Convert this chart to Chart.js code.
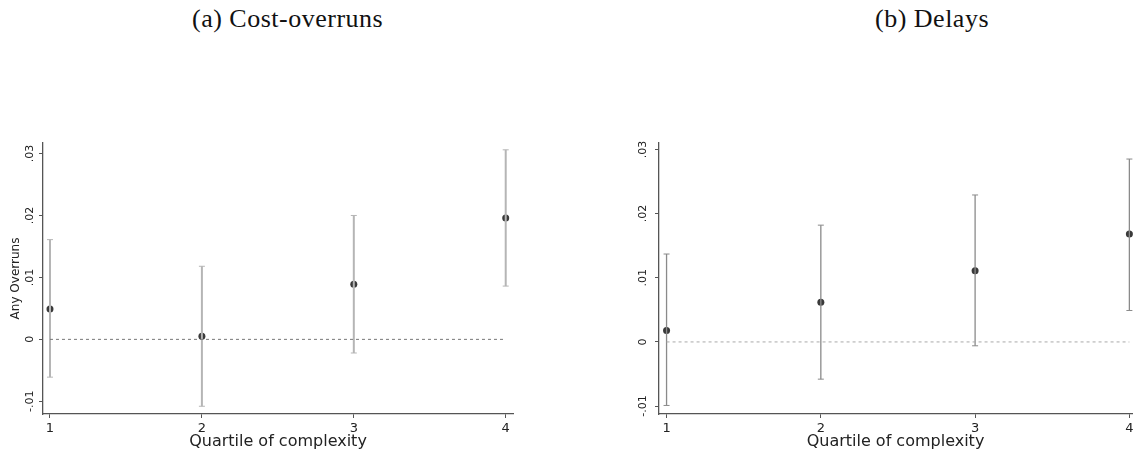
<!DOCTYPE html>
<html>
<head>
<meta charset="utf-8">
<script src="https://cdn.jsdelivr.net/npm/chart.js@4.4.1/dist/chart.umd.min.js"></script>
<style>
body { margin: 0; width: 1137px; height: 453px; background: #fff; overflow: hidden; position: relative; }
.panelTitle { position: absolute; top: 6px; font-family: "Liberation Serif", serif; font-size: 26px; line-height: 26px; letter-spacing: 0.5px; color: #111; white-space: nowrap; }
#wrapA { position: absolute; left: 0; top: 0; width: 560px; height: 453px; }
#wrapB { position: absolute; left: 570px; top: 0; width: 567px; height: 453px; }
</style>
</head>
<body>
<div class="panelTitle" style="left:192px">(a) Cost-overruns</div>
<div class="panelTitle" style="left:875px">(b) Delays</div>
<div id="wrapA"><canvas id="chartA"></canvas></div>
<div id="wrapB"><canvas id="chartB"></canvas></div>
<script>
const quartiles = [1, 2, 3, 4];
const quartileLabels = ['1', '2', '3', '4'];
const yTickValues = [-0.01, 0, 0.01, 0.02, 0.03];
const yTickLabels = ['-.01', '0', '.01', '.02', '.03'];

// (a) any overruns
const overrunCoef = [0.0049, 0.0005, 0.0089, 0.0196];
const overrunLow = [-0.0061, -0.0108, -0.0022, 0.0086];
const overrunHigh = [0.0161, 0.0118, 0.0200, 0.0306];

// (b) delays
const delayCoef = [0.0018, 0.0062, 0.0111, 0.0168];
const delayLow = [-0.0099, -0.0058, -0.0006, 0.0049];
const delayHigh = [0.0137, 0.0182, 0.0229, 0.0285];

const axisColor = '#555';
const textColor = '#222';

function makeChart(id, coef, low, high, cfg) {
    const datasets = [];

    // zero reference line
    datasets.push({
        type: 'line',
        data: [{ x: quartiles[0], y: 0 }, { x: quartiles[quartiles.length - 1], y: 0 }],
        borderColor: cfg.zeroColor,
        borderWidth: 1,
        borderDash: [3, 3],
        pointRadius: 0,
        clip: false
    });

    // confidence intervals
    quartiles.forEach((q, i) => {
        datasets.push({
            type: 'line',
            data: [{ x: q, y: low[i] }, { x: q, y: high[i] }],
            borderColor: cfg.ciColor,
            borderWidth: cfg.ciWidth,
            pointStyle: 'line',
            pointRadius: 3,
            pointBorderColor: cfg.ciColor,
            pointBorderWidth: 1,
            clip: false
        });
    });

    // point estimates
    datasets.push({
        type: 'scatter',
        data: quartiles.map((q, i) => ({ x: q, y: coef[i] })),
        backgroundColor: '#3a3a3a',
        borderWidth: 0,
        pointRadius: 3.5,
        clip: false
    });

    return new Chart(document.getElementById(id).getContext('2d'), {
        type: 'scatter',
        data: { datasets: datasets },
        options: {
            responsive: true,
            maintainAspectRatio: false,
            animation: false,
            layout: { padding: { top: 143, right: cfg.padRight, left: 0, bottom: 0 } },
            plugins: { legend: { display: false }, tooltip: { enabled: false } },
            scales: {
                x: {
                    type: 'linear',
                    min: cfg.xMin,
                    max: cfg.xMax,
                    afterBuildTicks: (scale) => { scale.ticks = quartiles.map(v => ({ value: v })); },
                    afterFit: (scale) => { scale.height = 39; },
                    grid: { display: true, drawOnChartArea: false, drawTicks: true, tickLength: 4, color: axisColor },
                    border: { display: true, color: axisColor, width: 1.3 },
                    ticks: {
                        callback: (v, i) => quartileLabels[i],
                        padding: 3,
                        maxRotation: 0,
                        font: { family: 'DejaVu Sans', size: 13 },
                        color: textColor
                    },
                    title: {
                        display: true,
                        text: 'Quartile of complexity',
                        font: { family: 'DejaVu Sans', size: 16 },
                        color: textColor,
                        padding: { top: 0, bottom: 2 }
                    }
                },
                y: {
                    type: 'linear',
                    min: cfg.yMin,
                    max: cfg.yMax,
                    afterBuildTicks: (scale) => { scale.ticks = yTickValues.map(v => ({ value: v })); },
                    afterFit: (scale) => { scale.width = cfg.yWidth; },
                    grid: { display: true, drawOnChartArea: false, drawTicks: true, tickLength: 4, color: axisColor },
                    border: { display: true, color: axisColor, width: 1.3 },
                    ticks: {
                        callback: (v, i) => yTickLabels[i],
                        minRotation: 90,
                        maxRotation: 90,
                        crossAlign: 'center',
                        padding: cfg.yTickPad,
                        font: { family: 'DejaVu Sans', size: 11 },
                        color: textColor
                    },
                    title: {
                        display: !!cfg.yTitle,
                        text: cfg.yTitle || '',
                        font: { family: 'DejaVu Sans', size: 12 },
                        color: textColor,
                        padding: { top: 9, bottom: 0 }
                    }
                }
            }
        }
    });
}

makeChart('chartA', overrunCoef, overrunLow, overrunHigh, {
    xMin: 0.954, xMax: 4.048, yMin: -0.01205, yMax: 0.0317,
    yWidth: 43, padRight: 47, yTickPad: -1.7,
    ciColor: '#b5b5b5', ciWidth: 2, zeroColor: '#777',
    yTitle: 'Any Overruns'
});

makeChart('chartB', delayCoef, delayLow, delayHigh, {
    xMin: 0.951, xMax: 4.017, yMin: -0.01123, yMax: 0.031,
    yWidth: 89, padRight: 0, yTickPad: 1,
    ciColor: '#8a8a8a', ciWidth: 1.3, zeroColor: '#aaa',
    yTitle: null
});
</script>
</body>
</html>
